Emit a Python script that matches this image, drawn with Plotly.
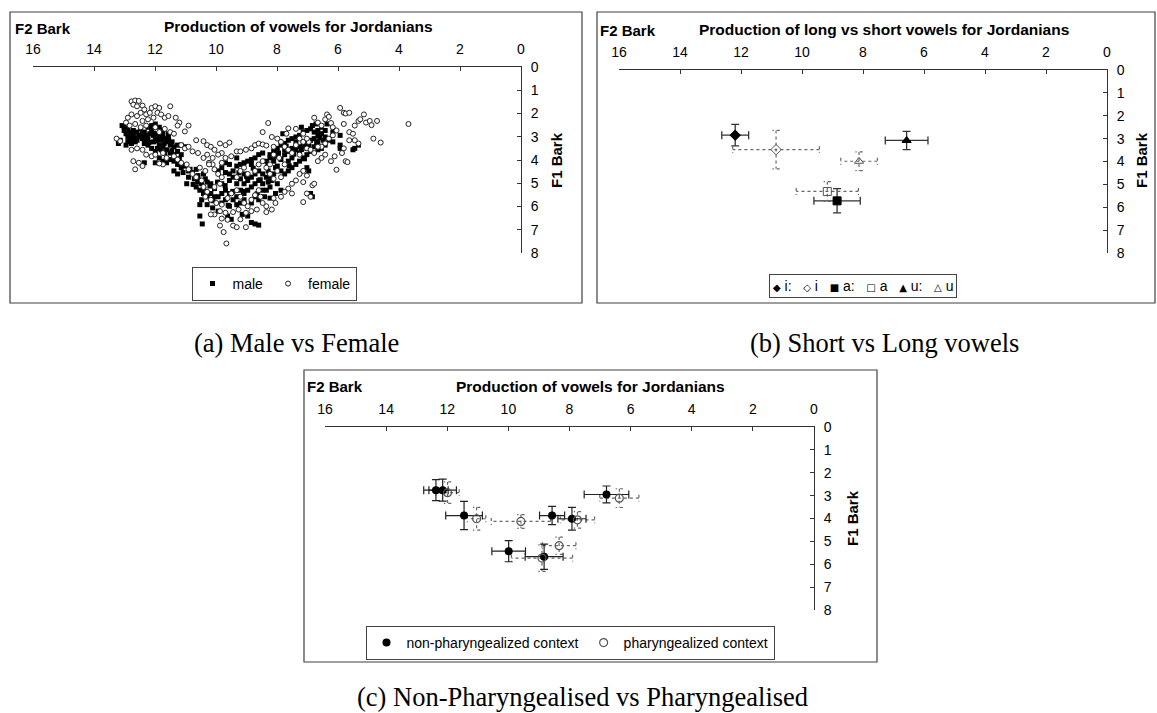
import plotly.graph_objects as go

# ---------------- Panel (a): male vs female (F2 Bark, F1 Bark) ----------------
male_f2 = [13.08, 13.01, 12.95, 12.89, 13.20, 13.14, 12.83, 12.77, 12.71, 12.65, 12.59, 12.53, 12.47, 12.41,
           12.35, 12.29, 12.23, 12.17, 12.11, 12.05, 11.99, 11.92, 11.86, 11.80, 11.74, 11.68, 11.62, 11.56,
           11.50, 11.44, 11.38, 12.89, 12.77, 12.95, 12.35, 12.23, 12.11, 11.99, 11.86, 11.74, 11.62, 11.50,
           11.38, 11.26, 11.14, 11.02, 11.14, 11.26, 11.99, 11.86, 11.74, 12.23, 12.11, 12.47, 12.71, 13.01,
           12.89, 12.83, 12.59, 12.41, 12.05, 11.92, 12.29, 12.71, 11.80, 11.68, 12.35, 11.99, 11.56,
           11.86, 11.74, 11.62, 11.50, 11.38, 11.26, 11.14, 11.02, 10.90, 10.77, 10.65, 10.71, 10.90, 10.59,
           10.53, 10.41, 10.35, 10.29, 10.47, 10.65, 10.53, 10.41, 10.29, 10.47, 10.53, 10.29, 10.11, 10.17,
           10.05, 10.53, 10.45, 11.38, 11.26, 11.08, 10.96,
           9.93, 9.81, 9.69, 9.56, 9.44, 9.32, 9.20, 9.08, 8.96, 8.84, 8.72, 8.60, 8.47, 8.35, 8.23, 8.11,
           8.05, 8.11, 8.17, 8.23, 8.35, 8.47, 8.60, 8.72, 8.84, 8.96, 9.08, 9.20, 9.32, 9.44, 9.56, 9.69,
           9.81, 9.93, 10.05, 9.81, 9.56, 9.32, 9.08, 8.84, 8.60, 8.41, 8.23, 7.99, 7.87, 8.05, 9.56, 9.44,
           9.20, 9.08, 8.96, 8.84, 8.72, 8.60, 8.47, 8.35, 9.56, 9.69, 9.32, 9.62, 9.50, 9.14, 8.96, 8.84,
           8.72, 8.60, 9.93, 8.29, 9.08, 9.32, 9.81, 8.72, 8.47, 9.20, 10.17, 9.69, 8.84, 8.29,
           8.23, 8.11, 7.99, 7.87, 7.75, 7.63, 7.51, 7.38, 7.26, 7.14, 7.02, 6.90, 7.20, 7.81, 7.99, 7.87,
           7.75, 7.63, 7.51, 7.38, 7.26, 7.14, 7.02, 6.90, 6.78, 6.66, 6.54, 6.42, 6.30, 6.17, 6.42, 6.54,
           6.66, 6.78, 6.90, 7.02, 7.14, 7.26, 7.38, 7.51, 7.63, 7.75, 7.87, 7.99, 6.78, 6.66, 6.54, 6.72,
           6.84, 5.93, 5.93, 5.45, 5.51, 5.33, 5.93, 6.96, 7.02, 6.84, 6.90, 6.42, 6.36, 6.17, 7.51, 7.26,
           7.63, 7.02, 6.66, 7.38, 7.75, 6.48,
           12.62, 12.44, 12.20, 11.95, 11.70, 11.45, 11.20, 10.85, 10.60, 10.40, 10.20, 9.95, 9.70, 9.45,
           9.25, 9.00, 8.78, 8.55, 8.30, 8.15, 7.95, 7.70, 7.45, 7.20, 6.95, 6.70, 12.80, 12.05, 11.55,
           10.75, 10.10, 9.60, 9.10, 8.65, 8.20, 7.60, 7.10, 6.60]
male_f1 = [2.52, 2.73, 2.87, 3.01, 3.29, 3.15, 2.80, 2.94, 3.08, 3.22, 2.80, 2.94, 3.01, 3.08,
           2.80, 2.94, 3.08, 2.87, 2.73, 2.94, 3.08, 2.87, 3.01, 3.15, 2.94, 3.08, 3.22, 3.01,
           3.36, 3.22, 3.43, 3.22, 3.29, 3.36, 3.29, 3.36, 3.50, 3.63, 3.36, 3.43, 3.56, 3.70,
           3.77, 3.63, 3.77, 3.43, 3.36, 3.36, 2.45, 2.59, 2.73, 2.59, 2.52, 2.66, 2.73, 2.59,
           2.66, 3.08, 3.15, 2.87, 3.22, 3.50, 3.15, 2.94, 3.56, 3.70, 4.12, 4.12, 2.87,
           3.91, 4.05, 4.12, 3.98, 4.05, 4.19, 4.33, 4.26, 4.47, 4.54, 4.40, 4.81, 4.74, 4.67,
           4.88, 4.60, 4.81, 4.95, 5.02, 5.16, 5.30, 5.44, 5.58, 5.71, 5.92, 5.92, 6.06, 5.44,
           5.58, 6.41, 6.75, 4.47, 4.60, 4.54, 5.02,
           4.47, 4.33, 4.54, 4.60, 4.47, 4.26, 4.19, 4.12, 4.05, 3.98, 3.91, 3.77, 3.70, 4.05, 3.91, 4.05,
           4.33, 4.60, 4.88, 5.16, 5.30, 5.02, 4.88, 5.02, 5.16, 5.30, 5.44, 5.30, 5.58, 5.71, 5.44, 5.30,
           5.44, 5.58, 5.23, 5.85, 5.99, 5.92, 5.71, 5.85, 5.71, 5.58, 5.64, 5.02, 5.30, 5.44, 4.88, 4.74,
           4.81, 5.02, 4.88, 4.74, 4.60, 4.47, 4.60, 4.74, 4.19, 4.12, 3.91, 6.41, 6.55, 6.34, 6.41, 6.69,
           6.75, 6.80, 6.20, 4.47, 4.60, 5.02, 5.02, 5.58, 5.30, 5.85, 5.02, 5.71, 4.19, 4.95,
           3.77, 3.63, 3.50, 3.36, 3.29, 3.15, 3.08, 3.01, 2.94, 2.80, 2.73, 2.66, 2.59, 2.87, 3.84, 3.98,
           3.77, 3.63, 3.50, 3.56, 3.43, 3.36, 3.29, 3.15, 3.08, 2.94, 2.87, 3.01, 3.15, 3.22, 3.36, 3.50,
           3.56, 3.43, 3.63, 3.77, 3.91, 4.05, 4.19, 4.33, 4.47, 4.60, 4.47, 4.26, 2.80, 2.73, 2.59, 2.45,
           2.52, 3.36, 3.50, 3.50, 3.56, 3.36, 2.94, 4.47, 4.33, 5.58, 5.44, 2.73, 2.45, 2.80, 3.91, 3.70,
           4.05, 3.50, 3.22, 3.22, 3.56, 3.15,
           3.05, 2.98, 3.25, 3.18, 3.30, 3.60, 3.95, 4.40, 4.95, 5.25, 5.12, 4.95, 5.10, 5.35, 4.55, 4.70,
           4.35, 4.85, 4.20, 3.85, 3.70, 3.40, 3.75, 3.55, 3.40, 3.25, 2.90, 2.85, 3.15, 5.05, 5.75, 5.95,
           5.35, 5.45, 4.80, 4.25, 3.95, 3.05]

female_f2 = [12.77, 12.65, 12.53, 12.71, 12.59, 12.41, 12.35, 12.47, 12.29, 12.17, 12.11, 11.99, 11.86,
             11.92, 12.05, 12.23, 12.41, 12.59, 12.77, 12.89, 12.95, 12.83, 12.65, 12.47, 12.29, 11.80,
             11.68, 11.50, 11.56, 11.32, 11.20, 11.26, 11.02, 10.90, 11.68, 11.50, 11.38, 11.99, 11.86,
             13.26, 13.14, 12.77, 12.59, 12.41, 12.71, 12.53, 12.41, 12.65, 12.29, 12.11, 11.99, 11.74,
             11.62, 11.74, 11.86,
             11.14, 11.02, 10.90, 10.65, 10.41, 10.77, 10.59, 10.29, 10.17, 10.05, 9.87, 9.69, 9.56, 9.81,
             9.93, 10.11, 10.29, 10.41, 10.23, 10.11, 9.81, 9.69, 9.50, 9.32, 9.20, 9.02, 8.84, 8.72, 8.60,
             8.47, 8.35, 8.29, 8.47, 8.17, 7.99, 7.87, 8.11, 7.75, 7.63, 7.51, 7.38, 7.26, 7.14, 7.02, 7.26,
             7.38, 7.63, 7.69,
             6.78, 6.66, 6.54, 6.42, 6.36, 6.30, 6.23, 6.17, 6.05, 5.93, 5.81, 5.75, 5.63, 5.81, 5.63, 5.51,
             5.45, 5.33, 5.27, 5.15, 5.08, 4.96, 4.90, 4.72, 4.84, 4.60, 3.69, 5.33, 5.45, 5.63, 5.81, 5.87,
             6.11, 6.23, 6.66, 6.54, 6.42, 6.78, 6.90, 6.96, 7.02, 7.14, 6.30, 6.17, 6.42, 6.54, 6.66,
             6.05, 5.75, 5.69, 7.14, 7.02, 7.26, 7.38, 7.51, 7.63, 7.75, 7.51, 7.14, 7.02, 6.90, 7.14, 6.84,
             6.78, 7.87, 8.05, 8.17, 8.35, 8.35, 8.11,
             10.53, 10.35, 10.23, 10.05, 9.93, 9.81, 9.87, 10.05, 10.29, 10.35, 10.17, 9.99, 9.81, 9.62,
             9.50, 9.32, 9.20, 9.08, 8.96, 8.84, 8.72, 8.60, 8.54, 8.47, 8.66, 8.84, 9.02, 9.26, 9.44, 9.69,
             9.87, 10.05, 10.17, 9.81, 9.62, 9.20, 9.44, 9.87, 9.75, 9.32, 9.02, 9.66, 10.41, 10.47, 10.65,
             10.77, 10.90, 10.96, 11.14, 11.26, 11.38,
             9.32, 9.20, 9.08, 8.96, 8.72, 8.60, 8.47, 8.35, 8.23, 8.11, 7.87, 7.99, 8.23, 7.75, 7.93, 8.11]
female_f1 = [1.48, 1.44, 1.46, 1.62, 1.69, 1.66, 1.83, 1.97, 2.04, 1.97, 1.76, 1.69, 1.76,
             1.97, 2.18, 2.25, 2.32, 2.11, 2.04, 2.18, 2.39, 2.52, 2.45, 2.59, 2.52, 2.04,
             2.18, 1.69, 2.11, 2.18, 2.39, 2.52, 2.77, 2.52, 2.66, 2.80, 2.87, 2.59, 2.80,
             3.08, 3.19, 3.56, 3.50, 3.56, 4.05, 4.12, 4.26, 4.40, 3.77, 3.84, 3.77, 3.70,
             3.91, 4.19, 4.15,
             3.36, 3.50, 3.43, 3.15, 3.19, 3.63, 3.70, 3.36, 3.43, 3.56, 3.29, 3.36, 3.25, 3.70,
             3.77, 3.91, 3.77, 3.91, 4.12, 4.19, 4.12, 3.91, 3.84, 3.63, 3.63, 3.56, 3.50, 3.36, 3.29,
             3.33, 3.38, 2.41, 2.80, 3.01, 3.08, 3.22, 3.43, 3.43, 3.56, 3.70, 3.36, 3.08, 3.22, 3.50, 3.77,
             2.66, 2.64, 2.87,
             2.18, 2.39, 2.52, 2.25, 2.04, 2.14, 2.41, 2.59, 2.73, 1.76, 1.97, 2.00, 1.97, 2.45, 2.80, 2.87,
             2.52, 2.32, 2.25, 2.04, 2.39, 2.32, 2.50, 2.32, 3.08, 3.25, 2.45, 3.29, 3.15, 3.15, 3.50, 3.70,
             3.84, 4.05, 4.05, 3.91, 3.77, 3.70, 3.56, 3.22, 3.08, 2.87, 3.08, 2.94, 3.29, 3.43, 3.43,
             4.42, 4.05, 4.09, 4.47, 4.67, 4.60, 4.88, 5.02, 5.23, 5.37, 5.44, 4.95, 5.44, 5.58, 5.81, 5.09,
             5.02, 5.58, 5.85, 6.13, 6.24, 5.99, 5.64,
             4.33, 4.47, 4.19, 4.40, 4.60, 4.74, 5.02, 5.16, 5.37, 5.58, 5.71, 5.85, 5.92, 5.64,
             5.44, 5.30, 5.58, 5.85, 5.99, 5.71, 5.51, 5.30, 5.58, 5.85, 6.13, 6.20, 6.27, 6.13, 6.24, 6.27,
             6.20, 6.34, 6.34, 6.52, 6.57, 6.55, 6.82, 6.82, 7.10, 6.89, 6.89, 7.59, 5.16, 4.88, 4.74,
             4.60, 4.40, 4.19, 4.12, 3.98, 3.84,
             4.74, 4.47, 4.33, 4.60, 4.47, 4.19, 4.05, 4.33, 4.60, 4.81, 4.74, 4.47, 4.19, 4.19, 3.91, 3.77]

# ---------------- Panel (b): long vs short vowels ----------------
vowel_labels = ["i:", "i", "a:", "a", "u:", "u"]
vowel_glyphs = ["◆", "◇", "■", "□", "▲", "△"]
vowel_long = [True, False, True, False, True, False]
vowel_f2 = [12.19, 10.85, 8.85, 9.17, 6.57, 8.13]
vowel_f1 = [2.85, 3.48, 5.72, 5.31, 3.08, 3.99]
vowel_f2_sd = [0.44, 1.42, 0.76, 1.02, 0.70, 0.60]
vowel_f1_sd = [0.47, 0.84, 0.53, 0.43, 0.40, 0.41]

# ---------------- Panel (c): non-pharyngealized vs pharyngealized ----------------
nonphar_f2 = [12.37, 12.15, 11.45, 9.99, 8.83, 8.57, 7.92, 6.79]
nonphar_f1 = [2.76, 2.76, 3.87, 5.43, 5.67, 3.87, 4.01, 2.95]
nonphar_f2_sd = [0.40, 0.45, 0.60, 0.55, 0.62, 0.41, 0.46, 0.73]
nonphar_f1_sd = [0.46, 0.48, 0.62, 0.46, 0.55, 0.40, 0.50, 0.37]
phar_f2 = [11.99, 11.04, 9.59, 8.34, 8.90, 7.74, 6.37]
phar_f1 = [2.87, 4.01, 4.13, 5.19, 5.73, 4.06, 3.11]
phar_f2_sd = [0.38, 0.30, 0.97, 0.55, 1.00, 0.56, 0.64]
phar_f1_sd = [0.47, 0.50, 0.30, 0.38, 0.58, 0.36, 0.41]

W, H = 1157, 713
SANS = "Liberation Sans, Arial, sans-serif"
SERIF = "Liberation Serif, Times New Roman, serif"


def px(x):
    return x / W


def py(y):
    return 1 - y / H


fig = go.Figure()


def dotted_errors(f2, f1, ex, ey, xa, ya, color="#666"):
    """Dotted error bars (with small caps) drawn as line segments in data space."""
    cx, cy = 0.12, 0.15  # cap half-sizes in data units
    xs, ys = [], []
    for x, y, dx, dy in zip(f2, f1, ex, ey):
        xs += [x - dx, x + dx, None, x, x, None,
               x - dx, x - dx, None, x + dx, x + dx, None,
               x - cx, x + cx, None, x - cx, x + cx, None]
        ys += [y, y, None, y - dy, y + dy, None,
               y - cy, y + cy, None, y - cy, y + cy, None,
               y - dy, y - dy, None, y + dy, y + dy, None]
    fig.add_trace(go.Scatter(x=xs, y=ys, mode="lines", xaxis=xa, yaxis=ya,
                             line=dict(color=color, width=1.2, dash="dot"),
                             showlegend=False, hoverinfo="skip"))


# Panel (a)
fig.add_trace(go.Scatter(x=male_f2, y=male_f1, mode="markers", name="male",
                         xaxis="x", yaxis="y", legend="legend",
                         marker=dict(symbol="square", size=5, color="#000000",
                                     line=dict(width=0))))
fig.add_trace(go.Scatter(x=female_f2, y=female_f1, mode="markers", name="female",
                         xaxis="x", yaxis="y", legend="legend",
                         marker=dict(symbol="circle", size=5, color="#ffffff",
                                     line=dict(width=1, color="#222222"))))

# Panel (b)
symbols_b = ["diamond", "diamond-open", "square", "square-open", "triangle-up", "triangle-up-open"]
for lab, lng, x, y, ex, ey, sym in zip(vowel_labels, vowel_long, vowel_f2, vowel_f1,
                                        vowel_f2_sd, vowel_f1_sd, symbols_b):
    if not lng:
        dotted_errors([x], [y], [ex], [ey], "x2", "y2")
    err_kw = {}
    if lng:
        err_kw = dict(error_x=dict(type="data", array=[ex], color="#333333", thickness=1.3, width=4),
                      error_y=dict(type="data", array=[ey], color="#333333", thickness=1.3, width=4))
    fig.add_trace(go.Scatter(x=[x], y=[y], mode="markers", name=lab, showlegend=False,
                             xaxis="x2", yaxis="y2",
                             marker=dict(symbol=sym, size=8,
                                         color="#000000" if lng else "#555555",
                                         line=dict(width=1, color="#000000" if lng else "#555555")),
                             **err_kw))

# Panel (c)
dotted_errors(phar_f2, phar_f1, phar_f2_sd, phar_f1_sd, "x3", "y3")
fig.add_trace(go.Scatter(x=nonphar_f2, y=nonphar_f1, mode="markers", name="non-pharyngealized context",
                         xaxis="x3", yaxis="y3", legend="legend3",
                         marker=dict(symbol="circle", size=8, color="#000000"),
                         error_x=dict(type="data", array=nonphar_f2_sd, color="#222222", thickness=1.2, width=4),
                         error_y=dict(type="data", array=nonphar_f1_sd, color="#222222", thickness=1.2, width=4)))
fig.add_trace(go.Scatter(x=phar_f2, y=phar_f1, mode="markers", name="pharyngealized context",
                         xaxis="x3", yaxis="y3", legend="legend3",
                         marker=dict(symbol="circle-open", size=8, color="#555555",
                                     line=dict(width=1.2, color="#555555"))))

# Axes
panels = {
    "": dict(x0=33, x1=521, y0=67, y1=253),
    "2": dict(x0=619, x1=1107, y0=70, y1=253),
    "3": dict(x0=325, x1=814, y0=427, y1=610),
}
axis_common = dict(showline=True, linecolor="#333333", linewidth=1, ticks="inside", ticklen=4,
                   tickcolor="#333333", showgrid=False, zeroline=False, automargin=False,
                   tickfont=dict(family=SANS, size=14, color="#000000"), ticklabelstandoff=6)
layout_axes = {}
for k, p in panels.items():
    layout_axes["xaxis" + k] = dict(domain=[px(p["x0"]), px(p["x1"])], range=[16, 0], side="top",
                                    anchor="y" + k, tickmode="linear", tick0=0, dtick=2, **axis_common)
    layout_axes["yaxis" + k] = dict(domain=[py(p["y1"]), py(p["y0"])], range=[8, 0], side="right",
                                    anchor="x" + k, tickmode="linear", tick0=0, dtick=1, **axis_common)

# Text annotations
ann = []


def text(x, y, s, size=15, xanchor="center", angle=0, family=SANS, **kw):
    ann.append(dict(x=px(x), y=py(y), xref="paper", yref="paper", text=s, showarrow=False,
                    xanchor=xanchor, yanchor="middle", textangle=angle,
                    font=dict(family=family, size=size, color="#000000"), **kw))


text(13, 28, "<b>F2 Bark</b>", xanchor="left")
text(298, 27, "<b>Production of vowels for Jordanians</b>", size=15.5)
text(556, 160, "<b>F1 Bark</b>", angle=-90)

text(598, 31, "<b>F2 Bark</b>", xanchor="left")
text(884, 30, "<b>Production of long vs short vowels for Jordanians</b>", size=15.5)
text(1141, 160, "<b>F1 Bark</b>", angle=-90)

text(305, 387, "<b>F2 Bark</b>", xanchor="left")
text(590, 387, "<b>Production of vowels for Jordanians</b>", size=15.5)
text(852, 518, "<b>F1 Bark</b>", angle=-90)

text(296, 343, "(a) Male vs Female", size=26.5, family=SERIF)
text(884, 343, "(b) Short vs Long vowels", size=26.5, family=SERIF)
text(582, 697, "(c) Non-Pharyngealised vs Pharyngealised", size=26.5, family=SERIF)

# Legend of panel (b), built from the vowel labels
legend_b = "   ".join(
    f"<span style='font-family:DejaVu Sans;font-size:10px'>{g}</span> {lab}"
    for g, lab in zip(vowel_glyphs, vowel_labels))
text(863, 285.5, legend_b, size=14, bordercolor="#444444", borderwidth=1, borderpad=3,
     bgcolor="#ffffff")

# Panel borders
shapes = []
for (x0, x1, y0, y1) in [(10, 582, 12, 303), (597, 1155, 12, 303), (304, 877, 370, 662)]:
    shapes.append(dict(type="rect", xref="paper", yref="paper", x0=px(x0), x1=px(x1),
                       y0=py(y1), y1=py(y0), line=dict(color="#404040", width=1.2)))

legend_common = dict(orientation="h", xanchor="center", yanchor="middle", bgcolor="#ffffff",
                     bordercolor="#444444", borderwidth=1, itemwidth=30,
                     font=dict(family=SANS, size=14, color="#000000"))

fig.update_layout(
    width=W, height=H, margin=dict(l=0, r=0, t=0, b=0, pad=0),
    paper_bgcolor="#ffffff", plot_bgcolor="#ffffff",
    annotations=ann, shapes=shapes,
    legend=dict(x=px(274), y=py(284), **legend_common),
    legend3=dict(x=px(570), y=py(643), **legend_common),
    **layout_axes,
)

fig.write_html("out.html", config={"displayModeBar": False},
               post_script="document.body.style.margin='0px';")
